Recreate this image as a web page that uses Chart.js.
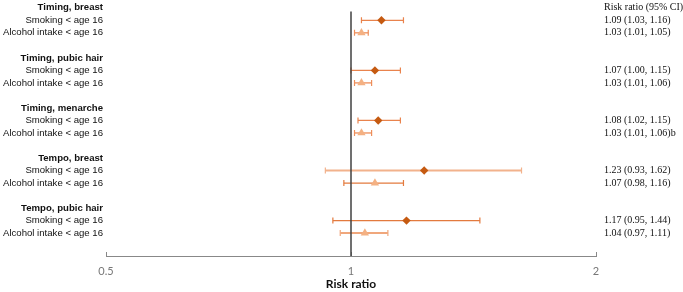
<!DOCTYPE html>
<html>
<head>
<meta charset="utf-8">
<script src="https://cdn.jsdelivr.net/npm/chart.js@4/dist/chart.umd.min.js"></script>
<style>
  html, body { margin: 0; padding: 0; background: #fff; }
  #wrap { width: 683px; height: 292px; position: relative; }
</style>
</head>
<body>
<div id="wrap"><canvas id="chart"></canvas></div>
<script>
// data
var groups = ['Timing, breast', 'Timing, pubic hair', 'Timing, menarche', 'Tempo, breast', 'Tempo, pubic hair'];
var exposures = ['Smoking < age 16', 'Alcohol intake < age 16'];
var smokingRR = [1.09, 1.07, 1.08, 1.23, 1.17];
var smokingLo = [1.03, 1.00, 1.02, 0.93, 0.95];
var smokingHi = [1.16, 1.15, 1.15, 1.62, 1.44];
var alcoholRR = [1.03, 1.03, 1.03, 1.07, 1.04];
var alcoholLo = [1.01, 1.01, 1.01, 0.98, 0.97];
var alcoholHi = [1.05, 1.06, 1.06, 1.16, 1.11];
var alcoholNote = ['', '', 'b', '', ''];
var xTicks = [0.5, 1, 2];
var rightHeader = 'Risk ratio (95% CI)';

// colours of the CI whiskers differ a bit per row in the original
var smokingCIColor = ['#E9834D', '#E9834D', '#E9834D', '#F2B28C', '#E37A3E'];
var alcoholCIColor = ['#EE8E5A', '#EE8E5A', '#EE8E5A', '#E37A3E', '#F0A77C'];

// row layout: header, smoking, alcohol, blank
var leftLabels = [], rightLabels = [], headerRows = [];
groups.forEach(function (g, i) {
    headerRows.push(leftLabels.length);
    leftLabels.push(g);
    rightLabels.push(i === 0 ? rightHeader : '');
    leftLabels.push(exposures[0]);
    rightLabels.push(smokingRR[i].toFixed(2) + ' (' + smokingLo[i].toFixed(2) + ', ' + smokingHi[i].toFixed(2) + ')');
    leftLabels.push(exposures[1]);
    rightLabels.push(alcoholRR[i].toFixed(2) + ' (' + alcoholLo[i].toFixed(2) + ', ' + alcoholHi[i].toFixed(2) + ')' + alcoholNote[i]);
    if (i < groups.length - 1) { leftLabels.push(''); rightLabels.push(''); }
});

var smokingPts = smokingRR.map(function (v, i) { return { x: v, y: i * 4 + 1 }; });
var alcoholPts = alcoholRR.map(function (v, i) { return { x: v, y: i * 4 + 2 }; });

var Y_MIN = -0.24, Y_MAX = 19.83;

function rowTicks(axis) {
    axis.ticks = leftLabels.map(function (_, i) { return { value: i }; });
}

var errorBars = {
    id: 'errorBars',
    beforeDatasetsDraw: function (chart) {
        var ctx = chart.ctx, xs = chart.scales.x, ys = chart.scales.y;
        function bar(lo, hi, row, color, w) {
            var y = ys.getPixelForValue(row);
            var x1 = xs.getPixelForValue(lo), x2 = xs.getPixelForValue(hi);
            ctx.save();
            ctx.strokeStyle = color;
            ctx.lineWidth = w;
            ctx.beginPath();
            ctx.moveTo(x1, y); ctx.lineTo(x2, y);
            ctx.stroke();
            ctx.lineWidth = 1.2;
            ctx.beginPath();
            ctx.moveTo(x1, y - 3); ctx.lineTo(x1, y + 3);
            ctx.moveTo(x2, y - 3); ctx.lineTo(x2, y + 3);
            ctx.stroke();
            ctx.restore();
        }
        for (var i = 0; i < groups.length; i++) {
            bar(smokingLo[i], smokingHi[i], i * 4 + 1, smokingCIColor[i], i === 3 ? 2.2 : 1.3);
            bar(alcoholLo[i], alcoholHi[i], i * 4 + 2, alcoholCIColor[i], i === 4 ? 2 : 1.3);
        }
    }
};

new Chart(document.getElementById('chart'), {
    type: 'scatter',
    data: {
        datasets: [{
            label: exposures[0],
            data: smokingPts,
            pointStyle: 'rectRot',
            pointRadius: 4.2,
            backgroundColor: '#C55A11',
            borderColor: '#C55A11',
            borderWidth: 0,
            yAxisID: 'y'
        }, {
            label: exposures[1],
            data: alcoholPts,
            pointStyle: 'triangle',
            pointRadius: 4.8,
            backgroundColor: '#F4B183',
            borderColor: '#F4B183',
            borderWidth: 0,
            yAxisID: 'y'
        }, {
            type: 'line',
            label: 'ref',
            data: [{ x: 1, y: 0.3 }, { x: 1, y: Y_MAX }],
            borderColor: '#404040',
            borderWidth: 1.5,
            pointRadius: 0,
            order: 5,
            yAxisID: 'y'
        }]
    },
    options: {
        responsive: true,
        maintainAspectRatio: false,
        animation: false,
        layout: { padding: 0 },
        plugins: { legend: { display: false }, tooltip: { enabled: false } },
        scales: {
            x: {
                type: 'logarithmic',
                min: 0.5,
                max: 2,
                afterBuildTicks: function (axis) { axis.ticks = xTicks.map(function (v) { return { value: v }; }); },
                afterFit: function (axis) { axis.height = 36; axis.paddingLeft = 0; axis.paddingRight = 0; },
                grid: { drawOnChartArea: false, drawTicks: true, tickLength: -4, color: '#888' },
                border: { display: true, color: '#888', width: 1 },
                ticks: {
                    callback: function (v) { return String(v); },
                    color: '#777',
                    padding: 13,
                    maxRotation: 0,
                    font: { family: 'Lato, "Liberation Sans", sans-serif', size: 11 }
                },
                title: {
                    display: true,
                    text: 'Risk ratio',
                    color: '#111',
                    padding: { top: 0, bottom: 1 },
                    font: { family: 'Lato, "Liberation Sans", sans-serif', size: 12, weight: 'bold' }
                }
            },
            y: {
                type: 'linear',
                position: 'left',
                reverse: true,
                min: Y_MIN,
                max: Y_MAX,
                afterBuildTicks: rowTicks,
                afterFit: function (axis) { axis.width = 106; axis.paddingTop = 0; axis.paddingBottom = 0; },
                grid: { display: false, drawTicks: false },
                border: { display: false },
                ticks: {
                    padding: 3,
                    color: '#111',
                    autoSkip: false,
                    callback: function (v) { return leftLabels[v]; },
                    font: function (c) {
                        return {
                            family: '"Liberation Sans", Arial, sans-serif',
                            size: 9.6,
                            weight: headerRows.indexOf(c.index) >= 0 ? 'bold' : 'normal'
                        };
                    }
                }
            },
            y2: {
                type: 'linear',
                position: 'right',
                reverse: true,
                min: Y_MIN,
                max: Y_MAX,
                afterBuildTicks: rowTicks,
                afterFit: function (axis) { axis.width = 87; axis.paddingTop = 0; axis.paddingBottom = 0; },
                grid: { display: false, drawTicks: false },
                border: { display: false },
                ticks: {
                    padding: 8,
                    color: '#111',
                    autoSkip: false,
                    callback: function (v) { return rightLabels[v]; },
                    font: { family: '"Liberation Serif", "Times New Roman", serif', size: 10 }
                }
            }
        }
    },
    plugins: [errorBars]
});
</script>
</body>
</html>
